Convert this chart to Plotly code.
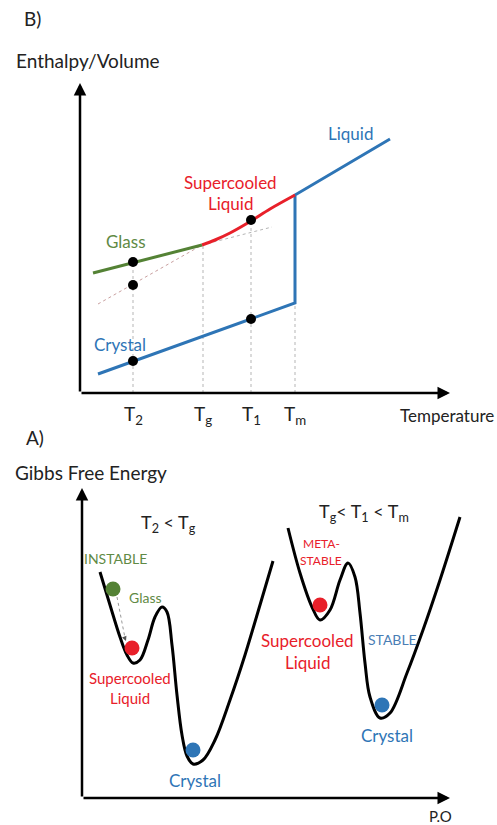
import plotly.graph_objects as go

# ---- B) enthalpy / volume vs temperature (top panel) ----
# temperature positions of the marks
T2, Tg, T1, Tm = 53, 123, 171, 215
tick_x = [T2, Tg, T1, Tm]
tick_text = ["T<sub>2</sub>", "T<sub>g</sub>", "T<sub>1</sub>", "T<sub>m</sub>"]

# liquid -> melting jump -> crystal (one blue path)
liq_cry_x = [310, 215, 215, 18]
liq_cry_y = [254, 198, 90, 19]

supercooled_x = [122, 135, 150, 171, 190, 215]
supercooled_y = [148, 153, 160, 172, 184, 198]

glass_x = [13, 122]
glass_y = [120, 148]

glass_ext_x = [122, 192]
glass_ext_y = [148, 166]

liq_extrap_x = [18, 122]
liq_extrap_y = [89, 148]

guide_top = [131, 148, 174, 90]

dots_x = [53, 53, 53, 171, 171]
dots_y = [131, 108, 32, 173, 74]

# ---- A) Gibbs free energy landscapes (bottom panel) ----
left_x = [18, 28, 38, 45, 51, 58, 66, 73, 80, 85, 90, 95, 100, 105, 111, 121, 133, 148, 163, 178, 191]
left_y = [226, 193, 161, 143, 135, 138, 158, 181, 191, 186, 153, 103, 63, 42, 34, 38, 58, 98, 143, 193, 237]

right_x = [206, 218, 230, 238, 248, 258, 266, 273, 278, 283, 288, 298, 308, 325, 341, 358, 378]
right_y = [270, 225, 191, 178, 188, 218, 235, 221, 185, 135, 101, 80, 85, 125, 168, 218, 281]

balls_x = [31, 50, 111, 238, 300]
balls_y = [209, 150, 48, 193, 93]

BLUE = "#2e75b6"
RED = "#e8202a"
GREEN = "#548235"
GREEN_TXT = "#5f8a45"
FONT = "Lato"

fig = go.Figure()

# top panel traces
for tx, top in zip(tick_x, guide_top):
    fig.add_trace(go.Scatter(x=[tx, tx], y=[0, top], mode="lines",
                             line=dict(color="#b5b5b5", width=1, dash="dot"),
                             xaxis="x", yaxis="y"))
fig.add_trace(go.Scatter(x=liq_extrap_x, y=liq_extrap_y, mode="lines",
                         line=dict(color="#c9a0a0", width=1, dash="dot"), xaxis="x", yaxis="y"))
fig.add_trace(go.Scatter(x=glass_ext_x, y=glass_ext_y, mode="lines",
                         line=dict(color="#b5b5b5", width=1, dash="dot"), xaxis="x", yaxis="y"))
fig.add_trace(go.Scatter(x=liq_cry_x, y=liq_cry_y, mode="lines",
                         line=dict(color=BLUE, width=3), xaxis="x", yaxis="y"))
fig.add_trace(go.Scatter(x=supercooled_x, y=supercooled_y, mode="lines", line_shape="spline",
                         line=dict(color=RED, width=3), xaxis="x", yaxis="y"))
fig.add_trace(go.Scatter(x=glass_x, y=glass_y, mode="lines",
                         line=dict(color=GREEN, width=3), xaxis="x", yaxis="y"))
fig.add_trace(go.Scatter(x=dots_x, y=dots_y, mode="markers",
                         marker=dict(color="black", size=10), xaxis="x", yaxis="y"))

# bottom panel traces
fig.add_trace(go.Scatter(x=left_x, y=left_y, mode="lines", line_shape="spline",
                         line=dict(color="black", width=3), xaxis="x2", yaxis="y2"))
fig.add_trace(go.Scatter(x=right_x, y=right_y, mode="lines", line_shape="spline",
                         line=dict(color="black", width=3), xaxis="x2", yaxis="y2"))
fig.add_trace(go.Scatter(x=[35, 43], y=[201, 160], mode="lines",
                         line=dict(color="#999999", width=1, dash="dot"), xaxis="x2", yaxis="y2"))
fig.add_trace(go.Scatter(x=balls_x, y=balls_y, mode="markers",
                         marker=dict(color=["#548235", "#e8202a", "#2e75b6", "#e8202a", "#2e75b6"], size=15),
                         xaxis="x2", yaxis="y2"))

ann = []


def arrow(x0, y0, x1, y1, ref):
    ann.append(dict(x=x1, y=y1, ax=x0, ay=y0, xref="x" + ref, yref="y" + ref,
                    axref="x" + ref, ayref="y" + ref, showarrow=True,
                    arrowhead=2, arrowsize=1, arrowwidth=2.5, arrowcolor="black", text=""))


def label(x, y, text, ref, color="#222222", size=15, **kw):
    ann.append(dict(x=x, y=y, text=text, xref="x" + ref, yref="y" + ref, showarrow=False,
                    font=dict(family=FONT, size=size, color=color), **kw))


# axes as arrows
arrow(0, 0, 0, 310, "")
arrow(0, 0, 370, 0, "")
arrow(0, 0, 0, 310, "2")
arrow(0, 0, 368, 0, "2")

# small head of the glass -> supercooled dotted arrow
ann.append(dict(x=44, y=157, ax=-2, ay=-5, xref="x2", yref="y2", showarrow=True,
                arrowhead=2, arrowsize=0.8, arrowwidth=1.2, arrowcolor="#555555", text=""))

# top panel text
label(-48, 375, "B)", "", size=19)
label(8, 333, "Enthalpy/Volume", "", size=19)
for tx, tt in zip(tick_x, tick_text):
    label(tx, -22, tt, "", size=19)
label(416, -22, "Temperature", "", size=17, xanchor="right")
label(270, 260, "Liquid", "", BLUE, 17)
label(150, 211, "Supercooled", "", RED, 17)
label(150, 190, "Liquid", "", RED, 17)
label(46, 152, "Glass", "", GREEN_TXT, 17)
label(40, 49, "Crystal", "", BLUE, 17)

# bottom panel text
label(-47, 361, "A)", "2", size=19)
label(9, 326, "Gibbs Free Energy", "2", size=19)
label(86, 275, "T<sub>2</sub> < T<sub>g</sub>", "2", size=18)
label(282, 286, "T<sub>g</sub>< T<sub>1</sub> < T<sub>m</sub>", "2", size=18)
label(33, 240, "INSTABLE", "2", GREEN_TXT, 14)
label(63, 201, "Glass", "2", GREEN_TXT, 14)
label(48, 120, "Supercooled", "2", RED, 15)
label(48, 100, "Liquid", "2", RED, 15)
label(113, 18, "Crystal", "2", BLUE, 17)
label(239, 255, "META-", "2", RED, 12)
label(239, 238, "STABLE", "2", RED, 12)
label(225, 158, "Supercooled", "2", RED, 17)
label(225, 136, "Liquid", "2", RED, 17)
label(310, 159, "STABLE", "2", "#4a7eb5", 14)
label(305, 63, "Crystal", "2", BLUE, 17)
label(358, -18, "P.O", "2", size=15)

split = 1 - 430 / 825
hidden = dict(visible=False, showgrid=False, zeroline=False, fixedrange=True)
fig.update_layout(
    width=497, height=825,
    margin=dict(l=0, r=0, t=0, b=0),
    paper_bgcolor="white", plot_bgcolor="white",
    showlegend=False,
    xaxis=dict(domain=[0, 1], range=[-80, 417], anchor="y", **hidden),
    yaxis=dict(domain=[split, 1], range=[-37, 393], anchor="x", **hidden),
    xaxis2=dict(domain=[0, 1], range=[-82, 415], anchor="y2", **hidden),
    yaxis2=dict(domain=[0, split], range=[-27, 368], anchor="x2", **hidden),
    annotations=ann,
)

# the page's default body margin would push the figure 8px right/down
fig.write_html("out.html", config={"displayModeBar": False},
               post_script="document.body.style.margin='0';")
